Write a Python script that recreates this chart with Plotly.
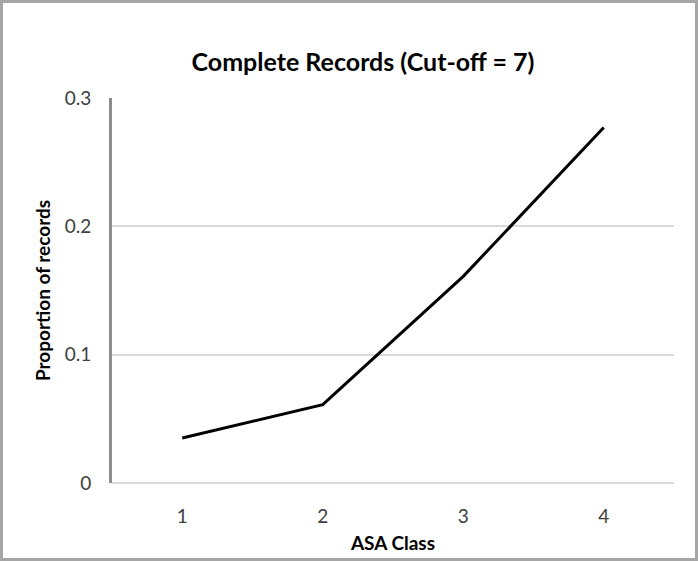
import plotly.graph_objects as go

# ASA class vs proportion of records (complete records, cut-off = 7)
asa_class = ["1", "2", "3", "4"]
proportion = [0.035, 0.061, 0.161, 0.277]
y_ticks = [0, 0.1, 0.2, 0.3]
y_tick_labels = ["0", "0.1", "0.2", "0.3"]

W, H = 698, 561
ML, MR, MT, MB = 112, 24, 98, 78
PW, PH = W - ML - MR, H - MT - MB

fig = go.Figure()
fig.add_trace(go.Scatter(
    x=asa_class, y=proportion,
    mode="lines",
    line=dict(color="black", width=3),
    showlegend=False,
))

# outer grey frame round the whole picture
fig.add_shape(
    type="rect", xref="paper", yref="paper",
    x0=(1.5 - ML) / PW, x1=(W - 1.5 - ML) / PW,
    y0=-(H - 1.5 - (H - MB)) / PH, y1=(H - MB - 1.5) / PH,
    line=dict(color="#a6a6a6", width=3),
    layer="above",
)

fig.update_layout(
    width=W, height=H,
    margin=dict(l=ML, r=MR, t=MT, b=MB),
    plot_bgcolor="white", paper_bgcolor="white",
    font=dict(family="Lato, Open Sans, sans-serif", color="#404040"),
    title=dict(
        text="<b>Complete Records (Cut-off = 7)</b>",
        x=363 / W, xanchor="center", xref="container",
        y=1 - 62 / H, yanchor="middle",
        font=dict(size=25, color="black"),
    ),
    xaxis=dict(
        type="category",
        range=[-0.5, 3.5],
        showgrid=False,
        showline=False,
        zeroline=False,
        ticks="",
        ticklabelstandoff=20,
        tickfont=dict(size=19, color="#404040"),
        title=dict(text="<b>ASA Class</b>", font=dict(size=19, color="black"), standoff=10),
    ),
    yaxis=dict(
        range=[0, 0.3],
        tickvals=y_ticks,
        ticktext=y_tick_labels,
        showgrid=True, gridcolor="#d9d9d9", gridwidth=1.5,
        zeroline=True, zerolinecolor="#d9d9d9", zerolinewidth=2,
        showline=True, linecolor="#8c8c8c", linewidth=3,
        ticks="",
        ticklabelstandoff=14,
        tickfont=dict(size=19, color="#404040"),
        title=dict(text="<b>Proportion of records</b>", font=dict(size=19, color="black"), standoff=10),
    ),
)

fig.write_html(
    "out.html",
    config={"displayModeBar": False},
    post_script="document.body.style.margin='0';",
)
